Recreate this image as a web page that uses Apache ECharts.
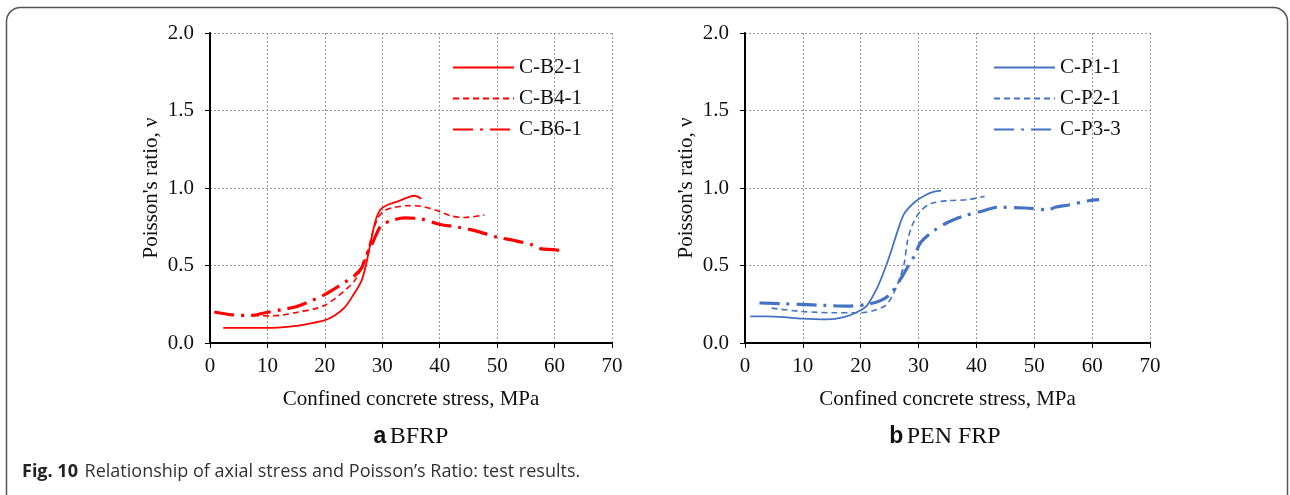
<!DOCTYPE html>
<html>
<head>
<meta charset="utf-8">
<script src="https://cdn.jsdelivr.net/npm/echarts@6/dist/echarts.min.js"></script>
<style>html,body{margin:0;padding:0;background:#fff}#c{width:1290px;height:495px}</style>
</head>
<body>
<div id="c"></div>
<script>
// ---- data (x: confined concrete stress MPa, y: Poisson's ratio) ----
const xTicks = [0, 10, 20, 30, 40, 50, 60, 70];
const yTicks = [0.0, 0.5, 1.0, 1.5, 2.0];

const CB21 = [[2.3,0.097],[6,0.097],[10,0.097],[14.2,0.107],[17.1,0.124],[19.9,0.146],[21.7,0.178],[23.5,0.232],[24.9,0.307],[26.4,0.403],[27.2,0.51],[27.8,0.618],[28.4,0.725],[29.0,0.81],[29.8,0.865],[31.3,0.897],[32.7,0.914],[34.5,0.94],[35.6,0.95],[36.8,0.93]];
const CB41 = [[7.5,0.178],[10,0.175],[12.5,0.18],[15.4,0.2],[18.2,0.22],[20,0.243],[21.7,0.285],[23.5,0.34],[25.2,0.403],[26.6,0.5],[27.5,0.597],[28.4,0.725],[29.3,0.81],[30.4,0.854],[32.2,0.876],[34.5,0.886],[36.8,0.882],[39.1,0.86],[42,0.82],[44.3,0.81],[47.8,0.826]];
const CB61 = [[0.75,0.2],[3.8,0.182],[7.2,0.178],[9.6,0.195],[12.5,0.215],[14.8,0.232],[17.1,0.264],[19.7,0.307],[21.7,0.35],[23.5,0.393],[25.2,0.436],[26.4,0.485],[27.2,0.564],[28.1,0.629],[29.0,0.704],[29.8,0.757],[31.6,0.79],[33.9,0.807],[36.8,0.8],[39.7,0.768],[43.2,0.747],[46.1,0.725],[50.1,0.682],[53.0,0.661],[55.9,0.635],[57.7,0.607],[59.7,0.603],[61.7,0.592]];

const CP11 = [[0.9,0.172],[3.8,0.172],[6.7,0.167],[9.8,0.157],[14.2,0.152],[17.1,0.167],[19.4,0.2],[21.1,0.243],[22.9,0.36],[24.3,0.49],[25.2,0.586],[26.4,0.725],[27.5,0.833],[29.3,0.908],[31.0,0.95],[32.7,0.976],[33.9,0.983]];
const CP21 = [[4.6,0.225],[9.6,0.204],[15.4,0.195],[20,0.195],[22.3,0.21],[24.3,0.243],[25.5,0.307],[26.6,0.403],[27.5,0.51],[28.1,0.66],[29.0,0.768],[30.4,0.854],[32.2,0.9],[35.1,0.918],[38.5,0.925],[41.4,0.946]];
const CP33 = [[2.5,0.258],[6.7,0.253],[9.6,0.249],[13.6,0.243],[17.7,0.238],[21.1,0.249],[23.5,0.275],[25.2,0.318],[26.9,0.414],[28.1,0.489],[29.3,0.564],[30.4,0.65],[32.7,0.725],[35.1,0.779],[38.0,0.822],[40.9,0.85],[43.7,0.876],[48.4,0.871],[52.5,0.86],[53.6,0.876],[55.9,0.89],[59.4,0.918],[61.2,0.925]];

const seriesNames = ['C-B2-1','C-B4-1','C-B6-1','C-P1-1','C-P2-1','C-P3-3'];
const xTitle = 'Confined concrete stress, MPa';
const yTitle = "Poisson's ratio, ν";

const RED = '#ff0000', BLUE = '#4472c4';
const serif = 'Liberation Serif, Times New Roman, serif';
const DASH = [6,4], DASHDOT = [20,7,3,7];

function xAxis(gi) {
  return {
    type: 'value', gridIndex: gi, min: xTicks[0], max: xTicks[xTicks.length-1], interval: 10,
    name: xTitle, nameLocation: 'middle', nameGap: 46,
    nameTextStyle: {fontFamily: serif, fontSize: 21, color: '#111'},
    axisLine: {show: true, onZero: false, lineStyle: {color: '#000', width: 2}},
    axisTick: {show: true, length: 5, lineStyle: {color: '#000', width: 1}},
    axisLabel: {fontFamily: serif, fontSize: 21, color: '#111', margin: 13},
    splitLine: {show: true, lineStyle: {color: '#999', type: [2,2], width: 1}}
  };
}
function yAxis(gi) {
  return {
    type: 'value', gridIndex: gi, min: yTicks[0], max: yTicks[yTicks.length-1], interval: 0.5,
    name: yTitle, nameLocation: 'middle', nameGap: 48, nameRotate: 90,
    nameTextStyle: {fontFamily: serif, fontSize: 21, color: '#111'},
    axisLine: {show: true, onZero: false, lineStyle: {color: '#000', width: 2}},
    axisTick: {show: true, length: 5, lineStyle: {color: '#000', width: 1}},
    axisLabel: {fontFamily: serif, fontSize: 21, color: '#111', margin: 16, formatter: v => v.toFixed(1)},
    splitLine: {show: true, lineStyle: {color: '#999', type: [2,2], width: 1}}
  };
}
function line(name, data, gi, color, width, type) {
  return {
    name, type: 'line', xAxisIndex: gi, yAxisIndex: gi, data,
    symbol: 'none', showSymbol: false, smooth: 0.3, animation: false,
    lineStyle: {color, width, type}, itemStyle: {color}
  };
}
function legend(names, left) {
  return {
    data: names, orient: 'vertical', left, top: 57, itemGap: 10, padding: 0,
    itemWidth: 61, itemHeight: 20,
    itemStyle: {opacity: 0},
    textStyle: {fontFamily: serif, fontSize: 21, color: '#111'},
    selectedMode: false
  };
}

const chart = echarts.init(document.getElementById('c'), null, {renderer: 'canvas'});
chart.setOption({
  backgroundColor: '#fff',
  animation: false,
  grid: [
    {left: 210, top: 33, width: 402, height: 310},
    {left: 745, top: 33, width: 405, height: 310}
  ],
  xAxis: [xAxis(0), xAxis(1)],
  yAxis: [yAxis(0), yAxis(1)],
  legend: [legend(seriesNames.slice(0,3), 452), legend(seriesNames.slice(3), 993)],
  series: [
    line(seriesNames[0], CB21, 0, RED, 1.8, 'solid'),
    line(seriesNames[1], CB41, 0, RED, 1.6, DASH),
    line(seriesNames[2], CB61, 0, RED, 3.2, DASHDOT),
    line(seriesNames[3], CP11, 1, BLUE, 1.8, 'solid'),
    line(seriesNames[4], CP21, 1, BLUE, 1.6, DASH),
    line(seriesNames[5], CP33, 1, BLUE, 3.2, DASHDOT)
  ],
  graphic: [
    {type: 'rect', silent: true, shape: {x: 6.5, y: 7.5, width: 1281, height: 510, r: 14},
     style: {fill: 'none', stroke: '#555', lineWidth: 1.5}},
    {type: 'text', silent: true, x: 411, y: 437,
     style: {text: '{a|a} {b|BFRP}', align: 'center', verticalAlign: 'middle',
       rich: {a: {fontFamily: 'Liberation Sans, Arial, sans-serif', fontWeight: 'bold', fontSize: 23, fill: '#111'},
              b: {fontFamily: serif, fontSize: 24, fill: '#111'}}}},
    {type: 'text', silent: true, x: 945, y: 437,
     style: {text: '{a|b} {b|PEN FRP}', align: 'center', verticalAlign: 'middle',
       rich: {a: {fontFamily: 'Liberation Sans, Arial, sans-serif', fontWeight: 'bold', fontSize: 23, fill: '#111'},
              b: {fontFamily: serif, fontSize: 24, fill: '#111'}}}},
    {type: 'text', silent: true, x: 22, y: 472,
     style: {text: '{a|Fig. 10}  {b|Relationship of axial stress and Poisson’s Ratio: test results.}', verticalAlign: 'middle',
       rich: {a: {fontFamily: 'Open Sans, Noto Sans, sans-serif', fontWeight: 'bold', fontSize: 18, fill: '#222'},
              b: {fontFamily: 'Open Sans, Noto Sans, sans-serif', fontSize: 18, fill: '#333'}}}}
  ]
});
</script>
</body>
</html>
